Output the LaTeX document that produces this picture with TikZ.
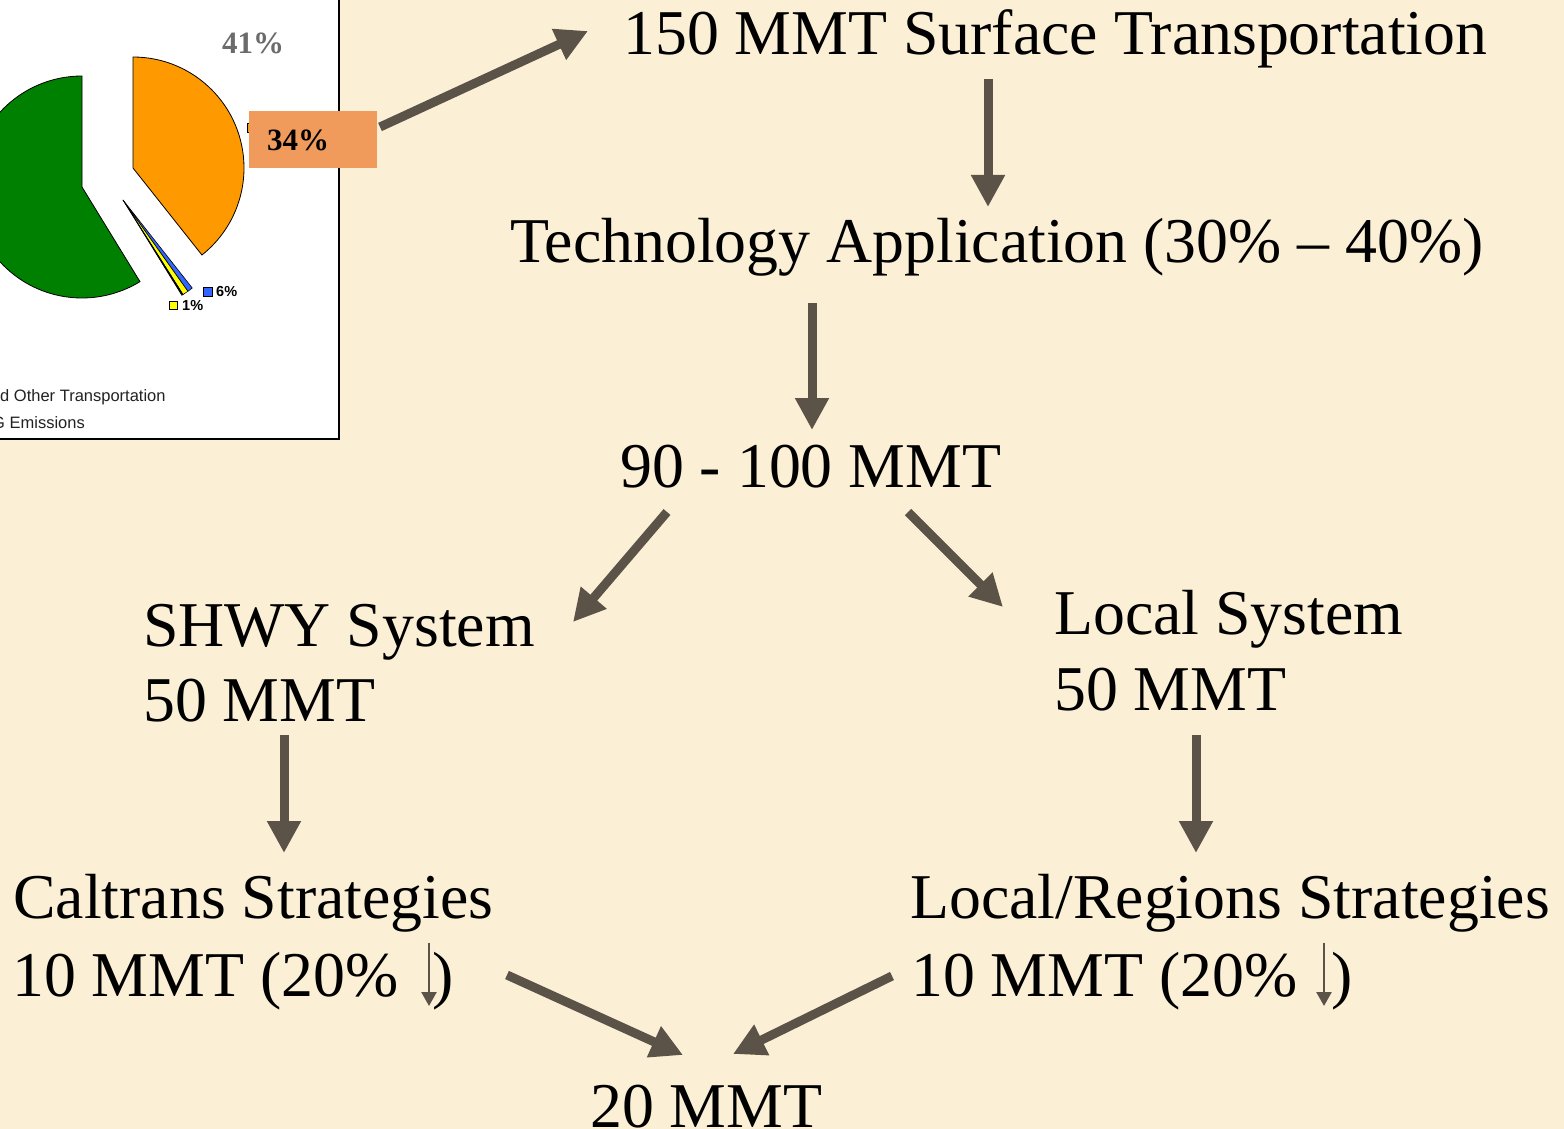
\documentclass[tikz,border=0pt]{standalone}
\usepackage{fontspec}
\setmainfont{Liberation Serif}
\newfontfamily\arialf{Liberation Sans}
\usetikzlibrary{arrows.meta}
\definecolor{bgc}{HTML}{FBF0D5}
\definecolor{arrc}{HTML}{5B5248}
\definecolor{boxc}{HTML}{F09A5C}
\definecolor{pieorange}{HTML}{FF9900}
\definecolor{piegreen}{HTML}{008000}
\definecolor{pieblue}{HTML}{3366FF}
\definecolor{pieyellow}{HTML}{FFFF00}
\definecolor{labgray}{HTML}{6B6B6B}
\definecolor{legtext}{HTML}{222222}
\begin{document}
\begin{tikzpicture}[x=1pt,y=-1pt,
  big/.style={anchor=base west, inner sep=0pt, font=\fontsize{63.8}{76}\selectfont, text=black},
  pct/.style={anchor=base west, inner sep=0pt, font=\fontsize{31}{36}\selectfont\bfseries},
  legpct/.style={anchor=base west, inner sep=0pt, font=\arialf\fontsize{14.5}{17}\selectfont\bfseries, text=black},
  legtxt/.style={anchor=base west, inner sep=0pt, font=\arialf\fontsize{16.5}{19}\selectfont, text=legtext},
  bigarrow/.style={draw=arrc, line width=9pt, -{Triangle[length=32pt,width=32pt]}},
  smallarrow/.style={draw=arrc, line width=2.5pt, -{Triangle[length=14pt,width=15pt]}},
  slice/.style={draw=black, line width=0.8pt},
  legbox/.style={draw=black, line width=0.7pt}]
\useasboundingbox (0,0) rectangle (1564,1129);
\clip (0,0) rectangle (1564,1129);
\fill[bgc] (0,0) rectangle (1564,1129);

% chart panel
\fill[white] (0,0) rectangle (339,439);
\draw[black, line width=1.5pt] (339,0) -- (339,439) -- (0,439);

% pie slices
\filldraw[slice, fill=piegreen] (82,187) -- (82,76) arc[start angle=90, end angle=301.5, radius=111pt] -- cycle;
\filldraw[slice, fill=pieorange] (133,168) -- (133,57) arc[start angle=90, end angle=-51.6, radius=111pt] -- cycle;
\coordinate (apex) at (123,200);
\filldraw[slice, fill=pieblue, line width=0.6pt] (apex) -- ++(-51.8:112pt) arc[start angle=-51.8, end angle=-54.6, radius=112pt] -- cycle;
\filldraw[slice, fill=pieyellow, line width=0.6pt] (apex) -- ++(-54.6:112pt) arc[start angle=-54.6, end angle=-57.6, radius=112pt] -- cycle;
\filldraw[slice, fill=black, line width=0.6pt] (apex) -- ++(-57.6:112pt) arc[start angle=-57.6, end angle=-58.3, radius=112pt] -- cycle;

% chart labels
\node[pct, text=labgray] (p41) at (222,54) {41\%};
\filldraw[legbox, fill=pieorange] (247,123) rectangle (256,132);
\node[fill=boxc, minimum width=128pt, minimum height=57pt, inner sep=0pt, anchor=north west] (box34) at (249,111) {};
\node[pct, text=black] (p34) at (267,150) {34\%};
\filldraw[legbox, fill=pieblue] (203,287) rectangle (212,296);
\node[legpct] (p6) at (216,296) {6\%};
\filldraw[legbox, fill=pieyellow] (169,301) rectangle (177,309);
\node[legpct] (p1) at (182,310) {1\%};
\node[legtxt] (leg1) at (0,401) {d Other Transportation};
\node[legtxt] (leg2) at (-8,428) {G Emissions};

% main texts
\node[big] (title) at (623,55) {150 MMT Surface Transportation};
\node[big] (tech) at (510,262) {Technology Application (30\% \textendash{} 40\%)};
\node[big] (mid) at (620,487) {90 - 100 MMT};
\node[big] (shwy1) at (143,646) {SHWY System};
\node[big] (shwy2) at (143,721) {50 MMT};
\node[big] (loc1) at (1054,634) {Local System};
\node[big] (loc2) at (1054,710) {50 MMT};
\node[big] (cal1) at (13,918) {Caltrans Strategies};
\node[big] (cal2) at (12,996) {10 MMT (20\%};
\node[big] (cal3) at (432,996) {)};
\node[big] (lr1) at (910,918) {Local/Regions Strategies};
\node[big] (lr2) at (911,996) {10 MMT (20\%};
\node[big] (lr3) at (1331,996) {)};
\node[big] (final) at (590,1127) {20 MMT};

% arrow end points
\coordinate (a1s) at (380,127);   \coordinate (a1e) at (588,31);
\coordinate (a2s) at (988,79);    \coordinate (a2e) at (988,207);
\coordinate (a3s) at (812,303);   \coordinate (a3e) at (812,430);
\coordinate (a4s) at (667,512);   \coordinate (a4e) at (573,622);
\coordinate (a5s) at (908,512);   \coordinate (a5e) at (1003,607);
\coordinate (a6s) at (284,735);   \coordinate (a6e) at (284,853);
\coordinate (a7s) at (1196,735);  \coordinate (a7e) at (1196,853);
\coordinate (a8s) at (507,975);   \coordinate (a8e) at (683,1055);
\coordinate (a9s) at (892,976);   \coordinate (a9e) at (733,1054);
\coordinate (d1s) at (429,943);   \coordinate (d1e) at (429,1006);
\coordinate (d2s) at (1324,943);  \coordinate (d2e) at (1324,1006);

\draw[bigarrow] (a1s) -- (a1e);
\draw[bigarrow] (a2s) -- (a2e);
\draw[bigarrow] (a3s) -- (a3e);
\draw[bigarrow] (a4s) -- (a4e);
\draw[bigarrow] (a5s) -- (a5e);
\draw[bigarrow] (a6s) -- (a6e);
\draw[bigarrow] (a7s) -- (a7e);
\draw[bigarrow] (a8s) -- (a8e);
\draw[bigarrow] (a9s) -- (a9e);
\draw[smallarrow] (d1s) -- (d1e);
\draw[smallarrow] (d2s) -- (d2e);
\end{tikzpicture}
\end{document}
